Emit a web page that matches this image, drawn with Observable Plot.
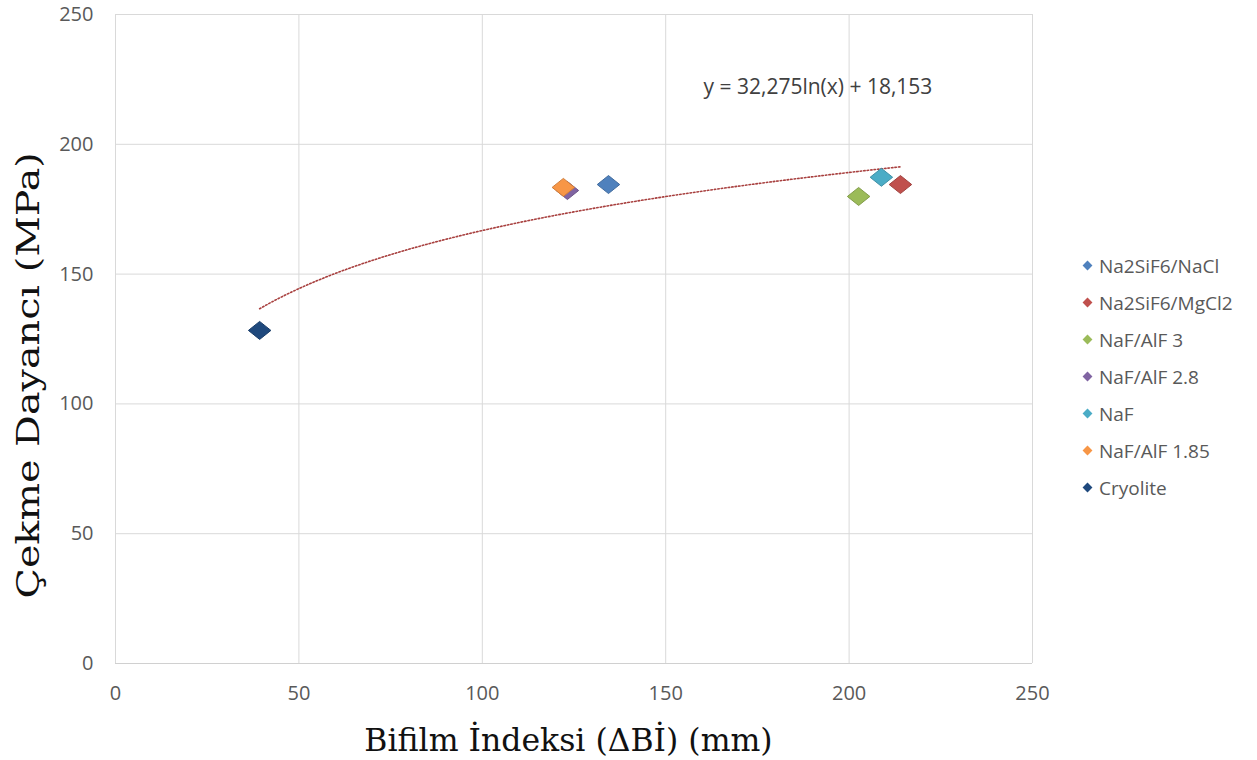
<!DOCTYPE html>
<html>
<head>
<meta charset="utf-8">
<script src="https://cdn.jsdelivr.net/npm/d3@7"></script>
<script src="https://cdn.jsdelivr.net/npm/@observablehq/plot@0.6"></script>
<style>
  html, body { margin: 0; padding: 0; background: #fff; }
  #wrap { position: relative; width: 1257px; height: 760px; }
  #legend { position: absolute; left: 1080px; top: 247px; font-family: "Open Sans", sans-serif; font-size: 19px; color: #595959; }
  .li { height: 37px; display: flex; align-items: center; white-space: nowrap; }
  .sw { width: 7px; height: 7px; transform: rotate(45deg); margin: 0 8px 0 4px; }
</style>
</head>
<body>
<div id="wrap"><div id="chart"></div><div id="legend"></div></div>
<script>
// Data
const series = ["Na2SiF6/NaCl", "Na2SiF6/MgCl2", "NaF/AlF 3", "NaF/AlF 2.8", "NaF", "NaF/AlF 1.85", "Cryolite"];
const bifilm = [134.4, 214.0, 202.6, 123.2, 208.8, 122.1, 39.3];
const strength = [184.5, 184.5, 179.9, 182.2, 187.3, 183.4, 128.3];
const colors = ["#4F81BD", "#C0504D", "#9BBB59", "#8064A2", "#4BACC6", "#F79646", "#1F497D"];
const ticks = [0, 50, 100, 150, 200, 250];
// Logarithmic trendline shown on the chart: y = a ln(x) + b
const trendA = 32.275;
const trendB = 18.153;
const trendLabel = "y = 32,275ln(x) + 18,153";

const points = series.map((s, i) => ({ series: s, x: bifilm[i], y: strength[i], color: colors[i] }));
const xMin = d3.min(bifilm), xMax = d3.max(bifilm);
const trend = d3.range(0, 101).map(k => {
  const x = xMin + (xMax - xMin) * k / 100;
  return { x, y: trendA * Math.log(x) + trendB };
});

// Excel-style diamond marker (slightly wider than tall)
const wideDiamond = {
  draw(context, size) {
    const r = Math.sqrt(size / Math.PI);
    const w = r * 1.25, h = r;
    context.moveTo(0, -h);
    context.lineTo(w, 0);
    context.lineTo(0, h);
    context.lineTo(-w, 0);
    context.closePath();
  }
};

const chart = Plot.plot({
  width: 1257,
  height: 760,
  marginLeft: 115,
  marginRight: 225,
  marginTop: 14,
  marginBottom: 97,
  style: { fontFamily: "'Open Sans', sans-serif", fontSize: "20px", color: "#595959", background: "#fff", overflow: "visible" },
  x: { domain: [0, 250], ticks, label: null },
  y: { domain: [0, 250], ticks, label: null },
  marks: [
    Plot.gridX(ticks, { stroke: "#d9d9d9", strokeOpacity: 1, strokeWidth: 1 }),
    Plot.gridY(ticks, { stroke: "#d9d9d9", strokeOpacity: 1, strokeWidth: 1 }),
    Plot.ruleY([0], { stroke: "#d0d0d0" }),
    Plot.axisX({ ticks, tickSize: 0, tickPadding: 22, label: null }),
    Plot.axisY({ ticks, tickSize: 0, tickPadding: 22, label: null }),
    Plot.line(trend, { x: "x", y: "y", stroke: "#A8403F", strokeWidth: 1.6, strokeDasharray: "1.5,2" }),
    Plot.dot(points, { x: "x", y: "y", fill: "color", stroke: d => d3.color(d.color).darker(0.5).formatHex(), strokeWidth: 1, symbol: wideDiamond, r: 9 }),
    Plot.text([trendLabel], { x: 191.5, y: 222, text: d => d, fontSize: 21, fill: "#404040" }),
    Plot.text(["Bifilm İndeksi (ΔBİ) (mm)"], { x: 123.5, y: 0, dy: 77, textAnchor: "middle", text: d => d, fontFamily: "'DejaVu Serif', serif", fontSize: 31.5, fill: "#111" }),
    Plot.text(["Çekme Dayancı (MPa)"], { className: "ytitle", x: 0, y: 111, dx: -86, textAnchor: "middle", rotate: -90, text: d => d, fontFamily: "'DejaVu Serif', serif", fontSize: 31, fill: "#111" })
  ]
});
document.getElementById("chart").appendChild(chart);

// Stretch the vertical title to match the reference's elongated lettering
d3.select(chart).selectAll(".ytitle text").each(function () {
  const t = this.getAttribute("transform") || "";
  this.setAttribute("transform", t + " scale(1.28,1)");
});

const legend = document.getElementById("legend");
series.forEach((s, i) => {
  const row = document.createElement("div");
  row.className = "li";
  const sw = document.createElement("div");
  sw.className = "sw";
  sw.style.background = colors[i];
  row.appendChild(sw);
  const t = document.createElement("span");
  t.textContent = s;
  row.appendChild(t);
  legend.appendChild(row);
});
</script>
</body>
</html>
